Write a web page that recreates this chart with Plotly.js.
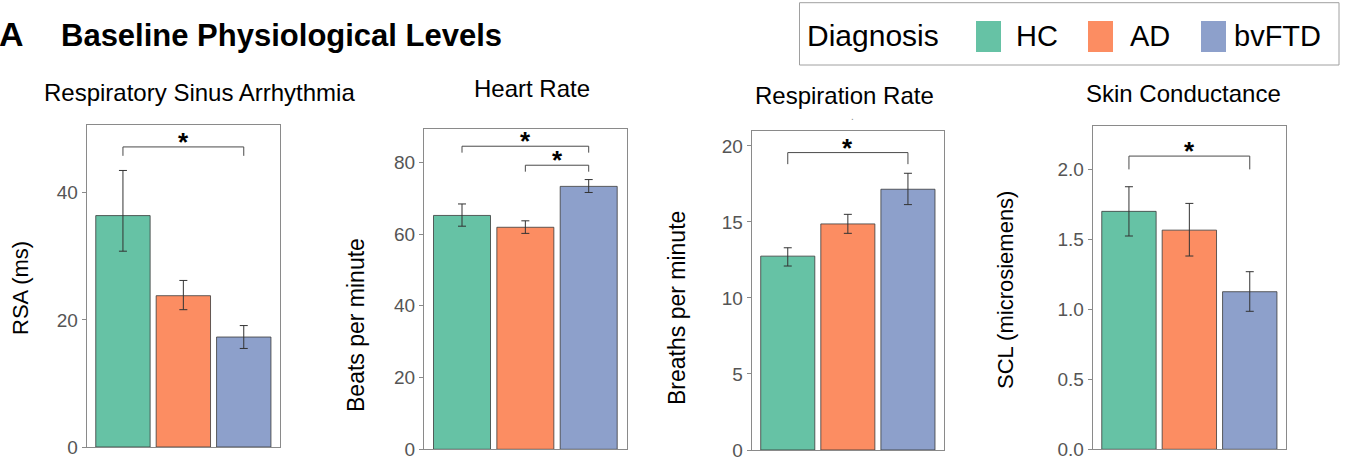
<!DOCTYPE html>
<html>
<head>
<meta charset="utf-8">
<script src="https://cdn.plot.ly/plotly-3.0.1.min.js"></script>
<style>html,body{margin:0;padding:0;background:#fff;}#chart{width:1346px;height:464px;}</style>
</head>
<body>
<div id="chart"></div>
<script>
// ---------- data ----------
const groups = ["HC", "AD", "bvFTD"];
const groupColors = ["#66c2a5", "#fc8d62", "#8da0cb"];

const panelTitles = ["Respiratory Sinus Arrhythmia", "Heart Rate", "Respiration Rate", "Skin Conductance"];
const axisTitles = ["RSA (ms)", "Beats per minute", "Breaths per minute", "SCL (microsiemens)"];

const rsaMean = [36.4, 23.8, 17.3];
const rsaHigh = [43.5, 26.2, 19.1];
const rsaLow  = [30.8, 21.6, 15.5];

const hrMean = [65.2, 61.9, 73.3];
const hrHigh = [68.4, 63.7, 75.2];
const hrLow  = [62.2, 60.2, 71.6];

const rrMean = [12.75, 14.87, 17.15];
const rrHigh = [13.3, 15.5, 18.2];
const rrLow  = [12.1, 14.25, 16.14];

const sclMean = [1.70, 1.566, 1.126];
const sclHigh = [1.876, 1.757, 1.269];
const sclLow  = [1.524, 1.381, 0.986];

const rsaTicks = [0, 20, 40];
const hrTicks = [0, 20, 40, 60, 80];
const rrTicks = [0, 5, 10, 15, 20];
const sclTicks = [0, 0.5, 1.0, 1.5, 2.0];

// significance brackets: [from group, to group, bracket height, tip height]
const rsaSig = [["HC", "bvFTD", 47.2, 45.8]];
const hrSig  = [["HC", "bvFTD", 84.5, 82.7], ["AD", "bvFTD", 79.2, 77.4]];
const rrSig  = [["HC", "bvFTD", 19.56, 18.8]];
const sclSig = [["HC", "bvFTD", 2.095, 2.0]];

// ---------- layout helpers ----------
const W = 1346, H = 464;
const px = x => x / W;
const py = y => 1 - y / H;
const FONT = "Liberation Sans, Arial, Helvetica, sans-serif";

const panels = [
  {mean: rsaMean, hi: rsaHigh, lo: rsaLow, ticks: rsaTicks, sig: rsaSig, fmt: "d",
   box: [86.7, 280, 125, 447], ymax: 50.65, title: [199, 92], ytitle: [20, 288, 22]},
  {mean: hrMean, hi: hrHigh, lo: hrLow, ticks: hrTicks, sig: hrSig, fmt: "d",
   box: [424, 626.7, 129, 449.3], ymax: 89.3, title: [532, 89], ytitle: [356, 325, 23]},
  {mean: rrMean, hi: rrHigh, lo: rrLow, ticks: rrTicks, sig: rrSig, fmt: "d",
   box: [751.7, 944, 130.7, 450], ymax: 21.0, title: [844, 95], ytitle: [677, 308, 23]},
  {mean: sclMean, hi: sclHigh, lo: sclLow, ticks: sclTicks, sig: sclSig, fmt: ".1f",
   box: [1092.7, 1286, 126, 449.3], ymax: 2.31, title: [1183, 93], ytitle: [1005, 290, 22]}
];

const data = [];
const layout = {
  width: W, height: H,
  margin: {l: 0, r: 0, t: 0, b: 0},
  paper_bgcolor: "#ffffff", plot_bgcolor: "#ffffff",
  showlegend: false,
  font: {family: FONT, color: "#000"},
  shapes: [], annotations: []
};

panels.forEach((p, i) => {
  const n = i + 1;
  const xa = "x" + (n === 1 ? "" : n), ya = "y" + (n === 1 ? "" : n);
  const xk = "xaxis" + (n === 1 ? "" : n), yk = "yaxis" + (n === 1 ? "" : n);
  layout[xk] = {
    domain: [px(p.box[0]), px(p.box[1])], anchor: ya,
    type: "category", categoryorder: "array", categoryarray: groups,
    range: [-0.6, 2.6], showticklabels: false, ticks: "",
    showline: true, mirror: true, linecolor: "#8a8a8a", linewidth: 1,
    showgrid: false, zeroline: false, fixedrange: true
  };
  layout[yk] = {
    domain: [py(p.box[3]), py(p.box[2])], anchor: xa,
    range: [0, p.ymax], tickvals: p.ticks, tickformat: p.fmt,
    ticks: "outside", ticklen: 4, tickwidth: 1, tickcolor: "#8a8a8a",
    tickfont: {size: 19, color: "#555555", family: FONT},
    showline: true, mirror: true, linecolor: "#8a8a8a", linewidth: 1,
    showgrid: false, zeroline: false, fixedrange: true
  };
  data.push({
    type: "bar", x: groups, y: p.mean, xaxis: xa, yaxis: ya, width: 0.9,
    marker: {color: groupColors, line: {color: "#3a3a3a", width: 0.8}},
    error_y: {
      type: "data", symmetric: false,
      array: p.mean.map((m, k) => p.hi[k] - m),
      arrayminus: p.mean.map((m, k) => m - p.lo[k]),
      color: "#333333", thickness: 1, width: 4
    },
    hoverinfo: "skip"
  });
  p.sig.forEach(s => {
    data.push({
      type: "scatter", mode: "lines", xaxis: xa, yaxis: ya,
      x: [s[0], s[0], s[1], s[1]], y: [s[3], s[2], s[2], s[3]],
      line: {color: "#4a4a4a", width: 1}, hoverinfo: "skip"
    });
    layout.annotations.push({
      xref: xa, yref: ya,
      x: (groups.indexOf(s[0]) + groups.indexOf(s[1])) / 2, y: s[2],
      text: "<b>*</b>", showarrow: false, yanchor: "middle", yshift: 5,
      font: {size: 26, color: "#000", family: FONT}
    });
  });
  layout.annotations.push({
    xref: "paper", yref: "paper", x: px(p.title[0]), y: py(p.title[1]),
    xanchor: "center", yanchor: "middle", showarrow: false,
    text: panelTitles[i], font: {size: 24, color: "#000", family: FONT}
  });
  layout.annotations.push({
    xref: "paper", yref: "paper", x: px(p.ytitle[0]), y: py(p.ytitle[1]),
    xanchor: "center", yanchor: "middle", showarrow: false, textangle: -90,
    text: axisTitles[i], font: {size: p.ytitle[2], color: "#000", family: FONT}
  });
});

// main title
layout.annotations.push({
  xref: "paper", yref: "paper", x: px(-3), y: py(34), xanchor: "left", yanchor: "middle",
  showarrow: false, text: "<b>A</b>", font: {size: 34, color: "#000", family: FONT}
});
layout.annotations.push({
  xref: "paper", yref: "paper", x: px(59), y: py(35), xanchor: "left", yanchor: "middle",
  showarrow: false, text: "<b>Baseline Physiological Levels</b>", font: {size: 31, color: "#000", family: FONT}
});
// small dot above respiration panel
layout.annotations.push({
  xref: "paper", yref: "paper", x: px(852), y: py(116), xanchor: "center", yanchor: "middle",
  showarrow: false, text: ".", font: {size: 10, color: "#888", family: FONT}
});

// legend (drawn manually)
layout.shapes.push({type: "rect", xref: "paper", yref: "paper",
  x0: px(799.5), x1: px(1339), y0: py(65), y1: py(2.7),
  line: {color: "#a0a0a0", width: 1}, fillcolor: "rgba(0,0,0,0)"});
layout.annotations.push({
  xref: "paper", yref: "paper", x: px(805), y: py(36), xanchor: "left", yanchor: "middle",
  showarrow: false, text: "Diagnosis", font: {size: 30, color: "#000", family: FONT}
});
const swatchX = [976, 1088, 1201];
const labelX = [1014, 1128, 1232];
groups.forEach((g, k) => {
  layout.shapes.push({type: "rect", xref: "paper", yref: "paper",
    x0: px(swatchX[k]), x1: px(swatchX[k] + 25), y0: py(52), y1: py(21),
    line: {width: 0}, fillcolor: groupColors[k]});
  layout.annotations.push({
    xref: "paper", yref: "paper", x: px(labelX[k]), y: py(36), xanchor: "left", yanchor: "middle",
    showarrow: false, text: g, font: {size: 29, color: "#000", family: FONT}
  });
});

Plotly.newPlot("chart", data, layout, {displayModeBar: false, staticPlot: true});
</script>
</body>
</html>
